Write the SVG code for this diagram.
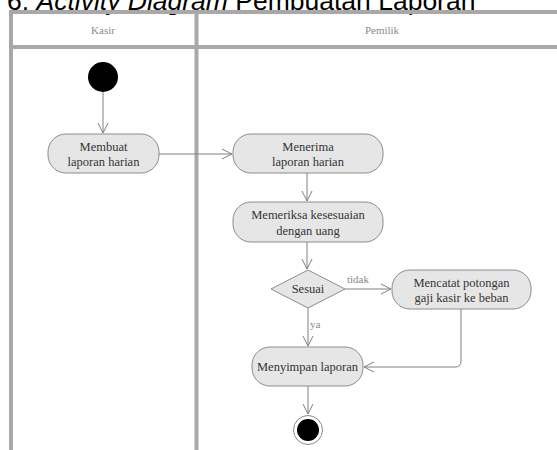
<svg xmlns="http://www.w3.org/2000/svg" width="557" height="450" viewBox="0 0 557 450">
<style>
.lane{fill:none;stroke:#a8a8a8;stroke-width:4}
.hdr{font-family:"Liberation Serif",serif;font-size:11px;fill:#8a8a8a;text-anchor:middle}
.act{fill:#e6e6e6;stroke:#8c8c8c;stroke-width:1}
.t{font-family:"Liberation Serif",serif;font-size:12.5px;fill:#333;text-anchor:middle}
.lbl{font-family:"Liberation Serif",serif;font-size:11px;fill:#888}
.c{fill:none;stroke:#808080;stroke-width:1;marker-end:url(#arr)}
</style>
<defs>
<marker id="arr" viewBox="0 0 12 12" refX="11" refY="6" markerWidth="12" markerHeight="12" markerUnits="userSpaceOnUse" orient="auto">
<path d="M1,1 L11,6 L1,11" fill="none" stroke="#808080" stroke-width="1"/>
</marker>
</defs>
<rect width="557" height="450" fill="#fff"/>
<text x="7" y="10" font-family="Liberation Sans,Arial,sans-serif" font-size="26.5" fill="#000">6. <tspan font-style="italic">Activity Diagram</tspan> Pembuatan Laporan</text>
<g id="lanes">
<path class="lane" d="M11,460 V12 H560"/>
<path class="lane" d="M11,47 H560"/>
<path class="lane" d="M196.5,12 V460"/>
<text class="hdr" x="103" y="34">Kasir</text>
<text class="hdr" x="382" y="34">Pemilik</text>
</g>
<g id="connectors">
<path class="c" d="M103,92 V133"/>
<path class="c" d="M159,154 H232"/>
<path class="c" d="M307,173 V201"/>
<path class="c" d="M307,242 V269"/>
<path class="c" d="M345,289 H391"/>
<path class="c" d="M308,308 V346"/>
<path class="c" d="M461,309 V361 Q461,367 455,367 H364"/>
<path class="c" d="M308,386 V414"/>
<text class="lbl" x="347" y="283">tidak</text>
<text class="lbl" x="310" y="328">ya</text>
</g>
<g id="start"><circle cx="103" cy="77" r="15" fill="#000"/></g>
<g id="membuat">
<rect class="act" x="48" y="134" width="111" height="39" rx="18"/>
<text class="t" x="103.5" y="151">Membuat</text>
<text class="t" x="103.5" y="166">laporan harian</text>
</g>
<g id="menerima">
<rect class="act" x="233" y="134" width="150" height="39" rx="18"/>
<text class="t" x="308" y="151">Menerima</text>
<text class="t" x="308" y="166">laporan harian</text>
</g>
<g id="memeriksa">
<rect class="act" x="233" y="202" width="150" height="40" rx="18"/>
<text class="t" x="308" y="219">Memeriksa kesesuaian</text>
<text class="t" x="308" y="235">dengan uang</text>
</g>
<g id="sesuai">
<polygon class="act" points="308,270 345,289 308,308 271,289"/>
<text class="t" x="308" y="293">Sesuai</text>
</g>
<g id="mencatat">
<rect class="act" x="392" y="270" width="139" height="39" rx="18"/>
<text class="t" x="461.5" y="287">Mencatat potongan</text>
<text class="t" x="461.5" y="302">gaji kasir ke beban</text>
</g>
<g id="menyimpan">
<rect class="act" x="252" y="347" width="111" height="39" rx="18"/>
<text class="t" x="307.5" y="371">Menyimpan laporan</text>
</g>
<g id="end">
<circle cx="308" cy="430" r="14.5" fill="#fff" stroke="#888" stroke-width="1"/>
<circle cx="308" cy="430" r="11" fill="#000"/>
</g>
</svg>
